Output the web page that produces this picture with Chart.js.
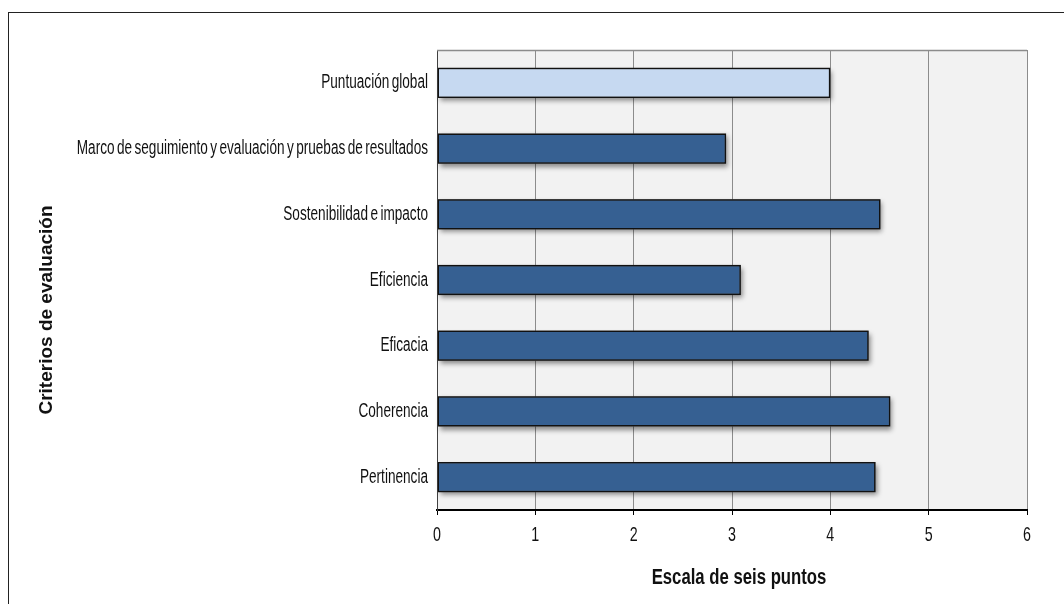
<!DOCTYPE html>
<html>
<head>
<meta charset="utf-8">
<script src="https://cdn.jsdelivr.net/npm/chart.js@4.4.1/dist/chart.umd.min.js"></script>
<style>
  html, body { margin: 0; padding: 0; background: #fff; overflow: hidden; }
  #wrap { position: relative; width: 1064px; height: 604px; }
  #frame { position: absolute; left: 8px; top: 12px; width: 1200px; height: 800px;
           border: 1.5px solid #222; box-sizing: border-box; }
  canvas { position: absolute; left: 0; top: 0; }
</style>
</head>
<body>
<div id="wrap">
  <div id="frame"></div>
  <canvas id="c" width="1064" height="604"></canvas>
</div>
<script>
// Evaluation criteria, listed top to bottom
const criterios = [
  'Puntuación global',
  'Marco de seguimiento y evaluación y pruebas de resultados',
  'Sostenibilidad e impacto',
  'Eficiencia',
  'Eficacia',
  'Coherencia',
  'Pertinencia'
];
// Scores on the six-point scale
const puntuaciones = [4.0, 2.94, 4.51, 3.09, 4.39, 4.61, 4.46];
// Overall score highlighted in a lighter tone
const colores = ['#c6d9f1', '#366092', '#366092', '#366092', '#366092', '#366092', '#366092'];
const escalaMin = 0;
const escalaMax = 6;
const tituloX = 'Escala de seis puntos';
const tituloY = 'Criterios de evaluación';

const sans = "'Liberation Sans', Arial, sans-serif";

// Draws text squeezed horizontally, for a narrow typeface look
function narrowText(ctx, text, x, y, font, sx, align, wordGap) {
  ctx.save();
  ctx.translate(x, y);
  ctx.scale(sx, 1);
  ctx.font = font;
  if (wordGap !== undefined && 'wordSpacing' in ctx) ctx.wordSpacing = wordGap;
  ctx.fillStyle = '#111';
  ctx.textAlign = align;
  ctx.textBaseline = 'middle';
  ctx.fillText(text, 0, 0);
  ctx.restore();
}

// Light grey plot background plus top border of the plot box
const plotBox = {
  id: 'plotBox',
  beforeDraw(chart) {
    const { ctx, chartArea: a } = chart;
    ctx.save();
    ctx.fillStyle = '#f2f2f2';
    ctx.fillRect(a.left, a.top, a.right - a.left, a.bottom - a.top);
    ctx.restore();
  },
  afterDraw(chart) {
    const { ctx, chartArea: a } = chart;
    ctx.save();
    ctx.strokeStyle = '#8c8c8c';
    ctx.lineWidth = 1.5;
    ctx.beginPath();
    ctx.moveTo(a.left, a.top + 0.5);
    ctx.lineTo(a.right, a.top + 0.5);
    ctx.stroke();
    ctx.restore();
  }
};

// Soft drop shadow behind each bar, taken from the bar elements
const barShadow = {
  id: 'barShadow',
  beforeDatasetsDraw(chart) {
    const { ctx } = chart;
    const meta = chart.getDatasetMeta(0);
    ctx.save();
    ctx.shadowColor = 'rgba(0,0,0,0.45)';
    ctx.shadowBlur = 5;
    ctx.shadowOffsetX = 2;
    ctx.shadowOffsetY = 3;
    ctx.fillStyle = '#555';
    meta.data.forEach(el => {
      const { x, y, base, height } = el.getProps(['x', 'y', 'base', 'height'], true);
      ctx.fillRect(Math.min(base, x), y - height / 2, Math.abs(x - base), height);
    });
    ctx.restore();
  }
};

// Tick labels and axis titles in a condensed face, placed from the scales
const axisText = {
  id: 'axisText',
  afterDraw(chart) {
    const { ctx, chartArea: a } = chart;
    const xs = chart.scales.x;
    const ys = chart.scales.y;
    ys.ticks.forEach((t, i) => {
      narrowText(ctx, criterios[i], a.left - 9, ys.getPixelForTick(i), '20px ' + sans, 0.68, 'right', '-2px');
    });
    xs.ticks.forEach((t, i) => {
      narrowText(ctx, String(t.value), xs.getPixelForTick(i), a.bottom + 25, '21px ' + sans, 0.68, 'center');
    });
    narrowText(ctx, tituloX, (a.left + a.right) / 2 + 7, a.bottom + 68, 'bold 22px ' + sans, 0.76, 'center');

    ctx.save();
    ctx.translate(47, 310);
    ctx.rotate(-Math.PI / 2);
    ctx.fillStyle = '#111';
    ctx.font = 'bold 19px ' + sans;
    ctx.textAlign = 'center';
    ctx.textBaseline = 'middle';
    ctx.fillText(tituloY, 0, 0);
    ctx.restore();
  }
};

new Chart(document.getElementById('c'), {
  type: 'bar',
  data: {
    labels: criterios,
    datasets: [{
      data: puntuaciones,
      backgroundColor: colores,
      borderColor: '#111',
      borderWidth: 1.5,
      borderSkipped: false,
      barPercentage: 0.46,
      categoryPercentage: 1
    }]
  },
  options: {
    indexAxis: 'y',
    responsive: false,
    animation: false,
    events: [],
    layout: { padding: { left: 20, top: 50, right: 37, bottom: 14 } },
    plugins: { legend: { display: false }, tooltip: { enabled: false } },
    scales: {
      x: {
        min: escalaMin,
        max: escalaMax,
        ticks: { stepSize: 1, display: false },
        grid: { color: '#8c8c8c', lineWidth: 1, tickColor: '#000', tickLength: 5, drawTicks: true },
        border: { color: '#000', width: 2 },
        afterFit(scale) { scale.height = 80; }
      },
      y: {
        ticks: { display: false },
        grid: { display: false },
        border: { color: '#404040', width: 1 },
        afterFit(scale) { scale.width = 417; }
      }
    }
  },
  plugins: [plotBox, barShadow, axisText]
});
</script>
</body>
</html>
